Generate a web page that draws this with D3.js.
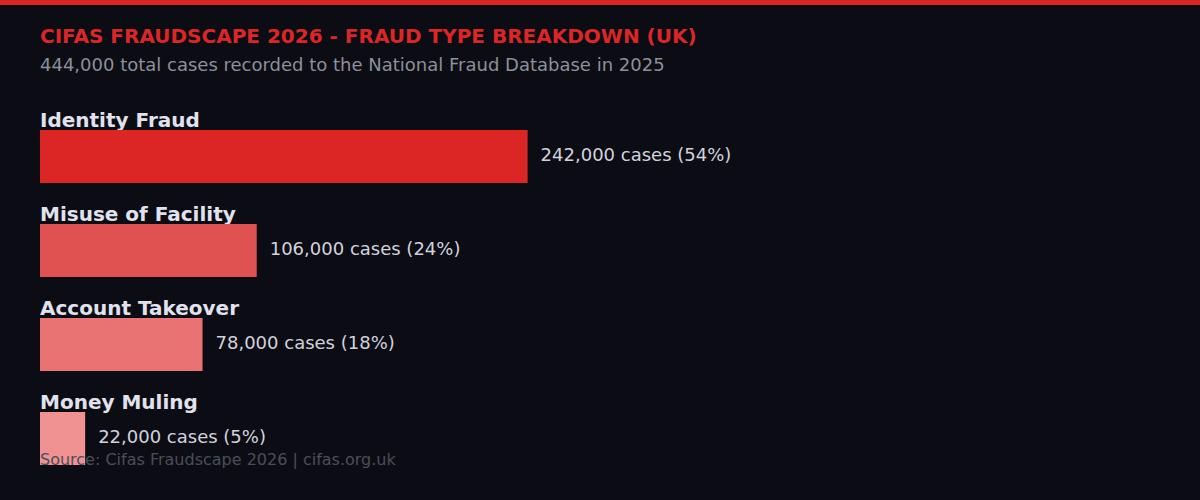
<!DOCTYPE html>
<html>
<head>
<meta charset="utf-8">
<script src="https://cdn.jsdelivr.net/npm/d3@7/dist/d3.min.js"></script>
<style>
  html, body { margin: 0; padding: 0; background: #0c0d14; }
  svg { display: block; font-family: "DejaVu Sans", sans-serif; }
</style>
</head>
<body>
<svg id="chart" width="1200" height="500"></svg>
<script>
const categories = ["Identity Fraud", "Misuse of Facility", "Account Takeover", "Money Muling"];
const cases = [242000, 106000, 78000, 22000];
const percents = [54, 24, 18, 5];
const barColors = ["#dc2626", "#e05252", "#e97272", "#f19292"];
const titleText = "CIFAS FRAUDSCAPE 2026 - FRAUD TYPE BREAKDOWN (UK)";
const subtitleText = "444,000 total cases recorded to the National Fraud Database in 2025";
const sourceText = "Source: Cifas Fraudscape 2026 | cifas.org.uk";

const svg = d3.select("#chart");
const W = 1200, H = 500;

svg.append("rect").attr("width", W).attr("height", H).attr("fill", "#0c0d14");
svg.append("rect").attr("width", W).attr("height", 5).attr("fill", "#dc2626");

svg.append("text").attr("x", 40).attr("y", 43)
  .attr("font-size", 20).attr("font-weight", "bold").attr("fill", "#dc2626")
  .text(titleText);
svg.append("text").attr("x", 40).attr("y", 71)
  .attr("font-size", 18).attr("fill", "#8d8f9a")
  .text(subtitleText);

const x = d3.scaleLinear().domain([0, 100]).range([0, 903]);
const y = d3.scaleBand().domain(categories).range([130, 465]).paddingInner(41 / 94).paddingOuter(0);

const data = categories.map((c, i) => ({ c, v: cases[i], p: percents[i], col: barColors[i] }));

const g = svg.append("g");
const rows = g.selectAll("g.row").data(data).enter().append("g").attr("class", "row");

rows.append("text")
  .attr("x", 40).attr("y", d => y(d.c) - 3)
  .attr("font-size", 20).attr("font-weight", "bold").attr("fill", "#e2e2ef")
  .text(d => d.c);

rows.append("rect")
  .attr("x", 40).attr("y", d => y(d.c))
  .attr("width", d => x(d.p)).attr("height", y.bandwidth())
  .attr("fill", d => d.col);

rows.append("text")
  .attr("x", d => 40 + x(d.p) + 13)
  .attr("y", d => y(d.c) + y.bandwidth() / 2 + 4.5)
  .attr("font-size", 18).attr("fill", "#d2d2de")
  .text(d => d3.format(",")(d.v) + " cases (" + d.p + "%)");

svg.append("text").attr("x", 40).attr("y", 464.5)
  .attr("font-size", 16).attr("fill", "#4a4d5a")
  .text(sourceText);
</script>
</body>
</html>
